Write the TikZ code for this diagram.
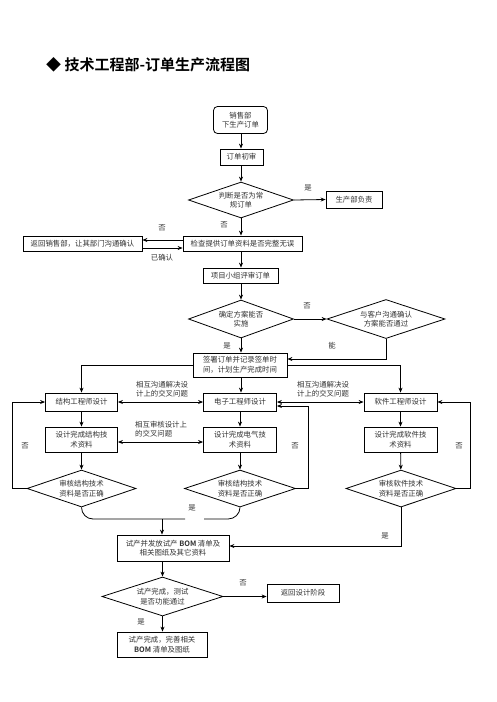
\documentclass[tikz,border=0pt]{standalone}
\usepackage{fontspec}
\newfontfamily\cjk{Noto Sans CJK SC}[BoldFont={Noto Sans CJK SC Bold}]
\usetikzlibrary{shapes.geometric,arrows.meta}
\begin{document}
\begin{tikzpicture}[x=1pt,y=-1pt,
  box/.style={draw, line width=0.8pt, inner sep=1pt, align=center,
    font=\cjk\fontsize{7.4}{9.5}\selectfont, text=black!80},
  dia/.style={box, diamond, aspect=3, inner sep=0pt},
  lbl/.style={font=\cjk\fontsize{7.4}{9.5}\selectfont, text=black!80, inner sep=0pt},
  arr/.style={-{Stealth[length=5pt,width=4pt]}, line width=0.8pt},
  dbl/.style={{Stealth[length=5pt,width=4pt]}-{Stealth[length=5pt,width=4pt]}, line width=0.8pt},
  ln/.style={line width=0.8pt}]
\fill[white] (0,0) rectangle (496,702);
\useasboundingbox (0,0) rectangle (496,702);

% title
\node[anchor=west, inner sep=0pt, font=\cjk\bfseries\fontsize{15}{18}\selectfont] (title) at (46,65) {◆ 技术工程部-订单生产流程图};

% nodes
\node[box, rounded corners=4pt, minimum width=54pt, minimum height=27pt] (n1) at (240.5,120) {销售部\\下生产订单};
\node[box, minimum width=43pt, minimum height=16pt] (n2) at (241.5,157) {订单初审};
\node[dia, minimum width=105pt, minimum height=36pt] (d1) at (241,200) {判断是否为常\\规订单};
\node[box, minimum width=56pt, minimum height=17pt] (n3) at (354,199.5) {生产部负责};
\node[box, minimum width=119pt, minimum height=15pt] (n4) at (242.5,243.5) {检查提供订单资料是否完整无误};
\node[box, minimum width=119pt, minimum height=15pt] (n5) at (82.5,243.5) {返回销售部，让其部门沟通确认};
\node[box, minimum width=75pt, minimum height=15pt] (n6) at (240.5,275.5) {项目小组评审订单};
\node[dia, minimum width=105pt, minimum height=38pt] (d2) at (241,319) {确定方案能否\\实施};
\node[dia, minimum width=118pt, minimum height=39pt] (d3) at (386,319) {与客户沟通确认\\方案能否通过};
\node[box, minimum width=94pt, minimum height=24pt] (n7) at (240,365) {签署订单并记录签单时\\间，计划生产完成时间};
\node[box, minimum width=72pt, minimum height=18pt] (n8) at (81.5,402) {结构工程师设计};
\node[box, minimum width=73pt, minimum height=18pt] (n9) at (240,402) {电子工程师设计};
\node[box, minimum width=73pt, minimum height=18pt] (n10) at (400.5,402) {软件工程师设计};
\node[box, minimum width=72pt, minimum height=25pt] (n11) at (81.5,439.5) {设计完成结构技\\术资料};
\node[box, minimum width=73pt, minimum height=25pt] (n12) at (240,439.5) {设计完成电气技\\术资料};
\node[box, minimum width=73pt, minimum height=25pt] (n13) at (400.5,439.5) {设计完成软件技\\术资料};
\node[dia, minimum width=109pt, minimum height=37pt] (d4) at (81.5,488.5) {审核结构技术\\资料是否正确};
\node[dia, minimum width=111pt, minimum height=37pt] (d5) at (240,488.5) {审核结构技术\\资料是否正确};
\node[dia, minimum width=110pt, minimum height=37pt] (d6) at (401,488.5) {审核软件技术\\资料是否正确};
\node[box, minimum width=112pt, minimum height=26pt] (n14) at (173,548) {试产并发放试产 {\bfseries BOM} 清单及\\相关图纸及其它资料};
\node[dia, minimum width=121pt, minimum height=39pt] (d7) at (162.5,596.5) {试产完成，测试\\是否功能通过};
\node[box, minimum width=72pt, minimum height=18pt] (n15) at (303,593) {返回设计阶段};
\node[box, minimum width=90pt, minimum height=25pt] (n16) at (162,644.5) {试产完成，完善相关\\{\bfseries BOM} 清单及图纸};

% labels
\node[lbl] (l1) at (308,188) {是};
\node[lbl] (l2) at (224,225) {否};
\node[lbl] (l3) at (162,228) {否};
\node[lbl] (l4) at (162,258) {已确认};
\node[lbl] (l5) at (307,306) {否};
\node[lbl] (l6) at (227,346) {是};
\node[lbl] (l7) at (332,346) {能};
\node[lbl, align=left] (l8) at (162,389) {相互沟通解决设\\计上的交叉问题};
\node[lbl, align=left] (l9) at (323,389) {相互沟通解决设\\计上的交叉问题};
\node[lbl, align=left, anchor=west] (l10) at (135,429) {相互审核设计上\\的交叉问题};
\node[lbl] (l11) at (25,446) {否};
\node[lbl] (l12) at (295,446) {否};
\node[lbl] (l13) at (459,446) {否};
\node[lbl] (l14) at (192,508) {是};
\node[lbl] (l15) at (385,536) {是};
\node[lbl] (l16) at (243,583) {否};
\node[lbl] (l17) at (141,622) {是};

% main column
\draw[arr] (n1.south -| d1.north) -- (d1.north |- n2.north);
\draw[arr] (n2.south -| d1.north) -- (d1.north);
\draw[arr] (d1.south) -- (d1.south |- n4.north);
\draw[arr] (d1.east) -- (n3.west);
\draw[arr] ([yshift=3.5pt]n4.west) -- ([yshift=3.5pt]n5.east);
\draw[arr] ([yshift=-4.5pt]n5.east) -- ([yshift=-4.5pt]n4.west);
\draw[arr] (n4.south -| d2.north) -- (d2.north |- n6.north);
\draw[arr] (n6.south -| d2.north) -- (d2.north);
\draw[arr] (d2.east) -- (d3.west);
\draw[arr] (d2.south) -- (d2.south |- n7.north);
\draw[arr] (d3.south) |- ([yshift=6pt]n7.east);

% distribution
\draw[arr] (n7.west) -| (n8.north);
\draw[arr] (n7.east) -| (n10.north);
\draw[arr] (n7.south -| d2.south) -- (d2.south |- n9.north);
\draw[dbl] (n8.east) -- (n9.west);
\draw[dbl] (n9.east) -- (n10.west);
\draw[arr] (n8) -- (n11);
\draw[arr] (n9) -- (n12);
\draw[arr] (n10) -- (n13);
\draw[dbl] ([yshift=-2.5pt]n11.east) -- ([yshift=-2.5pt]n12.west);
\draw[arr] (n11) -- (d4);
\draw[arr] (n12) -- (d5);
\draw[arr] (n13) -- (d6);

% loops
\draw[arr] (d4.west) -- ++(-14,0) |- (n8.west);
\draw[arr] (d5.east) -- ++(12,0) |- ([yshift=-4pt]n9.east);
\draw[arr] (d6.east) -- ++(14,0) |- (n10.east);

% merge
\coordinate (m) at (162,519);
\draw[ln] (d4.south) to[out=-90,in=180] (93,519) -- (185,519);
\draw[ln] (d5.south) to[out=-90,in=0] (228,519) -- (204,519);
\draw[arr] (m) -- (m |- n14.north);
\draw[arr] (d6.south) |- ([yshift=2pt]n14.east);
\draw[arr] (d7.north |- n14.south) -- (d7.north);
\draw[arr] (d7.east) -- (d7.east -| n15.west);
\draw[arr] (d7.south) -- (d7.south |- n16.north);
\end{tikzpicture}
\end{document}
